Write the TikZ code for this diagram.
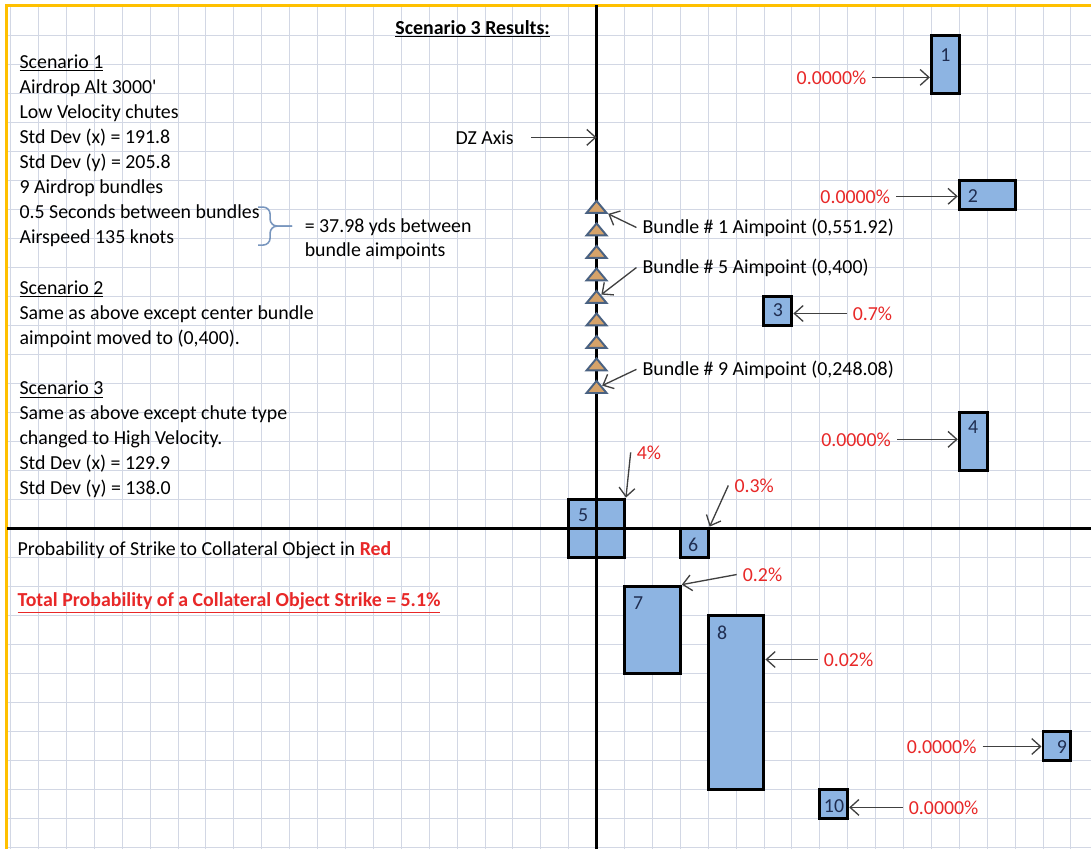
\documentclass[tikz,border=0pt]{standalone}
\usepackage{fontspec}
\setmainfont{Carlito}
\usepackage{tikz}
\usetikzlibrary{arrows.meta,positioning,fit,shapes.geometric}

\definecolor{gridgray}{RGB}{210,215,228}
\definecolor{selorange}{RGB}{255,192,0}
\definecolor{boxblue}{RGB}{141,180,226}
\definecolor{numnavy}{RGB}{31,45,80}
\definecolor{pctred}{RGB}{232,40,40}
\definecolor{arrowgray}{RGB}{64,64,64}
\definecolor{bracecol}{RGB}{120,150,190}
\definecolor{aimfill}{RGB}{214,163,106}
\definecolor{aimedge}{RGB}{74,98,130}

\begin{document}
\begin{tikzpicture}[x=0.558cm, y=0.58cm,
    every node/.append style={font=\fontsize{11.3}{13.6}\selectfont},
    txt/.style={anchor=base west},
    pct/.style={anchor=base, text=pctred},
    boxnum/.style={anchor=base, text=numnavy},
    bundlebox/.style={draw=black, line width=1.7pt, fill=boxblue, inner sep=0pt},
    aimpt/.style={isosceles triangle, isosceles triangle stretches, shape border rotate=90,
        minimum width=0.4cm, minimum height=0.24cm, inner sep=0pt,
        fill=aimfill, draw=aimedge, line width=1.1pt},
    pointer/.style={draw=arrowgray, line width=0.75pt, -{Straight Barb[length=5pt,width=9pt]}},
    gridline/.style={draw=gridgray, line width=0.5pt},
    axisline/.style={draw=black, line width=1.7pt},
    bracket/.style={draw=bracecol, line width=0.9pt, rounded corners=4pt}]

	\useasboundingbox (-21.38,-11.07) rectangle (17.72,18.21);
	\fill[white] (-21.38,-11.07) rectangle (17.72,18.21);

	% sheet grid
	\foreach \k in {-21,...,17} {
		\draw[gridline] (\k,-11.07) -- (\k,18.03);
	}
	\foreach \j in {-11,...,17} {
		\draw[gridline] (-21.13,\j) -- (17.72,\j);
	}
	\draw[selorange, line width=1.7pt] (-21.13,-11.07) -- (-21.13,18.03) -- (17.72,18.03);

	% collateral objects
	\node[bundlebox, fit={(12,15) (13,17)}] (b1) {};
	\node[bundlebox, fit={(13,11) (15,12)}] (b2) {};
	\node[bundlebox, fit={(6,7) (7,8)}] (b3) {};
	\node[bundlebox, fit={(13,2) (14,4)}] (b4) {};
	\node[bundlebox, fit={(-1,-1) (1,1)}] (b5) {};
	\node[bundlebox, fit={(3,-1) (4,0)}] (b6) {};
	\node[bundlebox, fit={(1,-5) (3,-2)}] (b7) {};
	\node[bundlebox, fit={(4,-9) (6,-3)}] (b8) {};
	\node[bundlebox, fit={(16,-8) (17,-7)}] (b9) {};
	\node[bundlebox, fit={(8,-10) (9,-9)}] (b10) {};

	\node[boxnum] (n1) at (12.5,16.1) {1};
	\node[boxnum] (n2) at (13.49,11.24) {2};
	\node[boxnum] (n3) at (6.5,7.28) {3};
	\node[boxnum] (n4) at (13.5,3.28) {4};
	\node[boxnum] (n5) at (-0.48,0.24) {5};
	\node[boxnum] (n6) at (3.46,-0.79) {6};
	\node[boxnum] (n7) at (1.49,-2.79) {7};
	\node[boxnum] (n8) at (4.5,-3.83) {8};
	\node[boxnum] (n9) at (16.68,-7.76) {9};
	\node[boxnum] (n10) at (8.51,-9.79) {10};

	% DZ axes
	\coordinate (axtop) at (0,18.03);
	\draw[axisline] (0,-11.07) -- (axtop);
	\draw[axisline] (-21.13,0) -- (17.72,0);

	% bundle aimpoints
	\foreach \i in {1,...,9} {
		\node[aimpt] (a\i) at (0,{11.03-0.776*(\i-1)}) {};
	}

	\node[anchor=base] (title) at (-4.44,17.03) {\underline{\textbf{Scenario 3 Results:}}};
	\node[anchor=base] (dz) at (-4.01,13.24) {DZ Axis};
	\draw[pointer] (dz.east) ++(0.41,0) -- (dz.east -| axtop);

	% scenario notes
	\node[txt] (s1h) at (-20.9,15.862) {\underline{Scenario 1}};
	\node[txt] (s1a) at (-20.9,14.997) {Airdrop Alt 3000\textquotesingle};
	\node[txt] (s1b) at (-20.9,14.131) {Low Velocity chutes};
	\node[txt] (s1c) at (-20.9,13.266) {Std Dev (x) = 191.8};
	\node[txt] (s1d) at (-20.9,12.400) {Std Dev (y) = 205.8};
	\node[txt] (s1e) at (-20.9,11.534) {9 Airdrop bundles};
	\node[txt] (s1f) at (-20.9,10.669) {0.5 Seconds between bundles};
	\node[txt] (s1g) at (-20.9,9.803) {Airspeed 135 knots};
	\node[txt] (s2h) at (-20.9,8.072) {\underline{Scenario 2}};
	\node[txt] (s2a) at (-20.9,7.207) {Same as above except center bundle};
	\node[txt] (s2b) at (-20.9,6.341) {aimpoint moved to (0,400).};
	\node[txt] (s3h) at (-20.9,4.610) {\underline{Scenario 3}};
	\node[txt] (s3a) at (-20.9,3.745) {Same as above except chute type};
	\node[txt] (s3b) at (-20.9,2.879) {changed to High Velocity.};
	\node[txt] (s3c) at (-20.9,2.014) {Std Dev (x) = 129.9};
	\node[txt] (s3d) at (-20.9,1.148) {Std Dev (y) = 138.0};

	% brace joining the two lines
	\draw[bracket] (-12.13,11.07) -| (-11.70,10.415) -- (-10.91,10.415);
	\draw[bracket] (-12.13,9.76) -| (-11.70,10.415) -- (-10.91,10.415);
	\node[txt] (gap1) at (-10.68,10.207) {= 37.98 yds between};
	\node[txt] (gap2) at (-10.68,9.379) {bundle aimpoints};

	\node[txt] (strike) at (-20.97,-0.93) {Probability of Strike to Collateral Object in \textcolor{pctred}{\textbf{Red}}};
	\node[txt, text=pctred] (total) at (-20.97,-2.69) {\underline{\textbf{Total Probability of a Collateral Object Strike = 5.1\%}}};

	% aimpoint call-outs
	\node[txt] (l1) at (1.43,10.17) {Bundle \# 1 Aimpoint (0,551.92)};
	\node[txt] (l5) at (1.43,8.79) {Bundle \# 5 Aimpoint (0,400)};
	\node[txt] (l9) at (1.43,5.28) {Bundle \# 9 Aimpoint (0,248.08)};
	\draw[pointer] (l1.west) -- (a1);
	\draw[pointer] (l5.west) -- (a5);
	\draw[pointer] (l9.west) -- (a9);

	% strike probabilities
	\node[pct] (p1) at (8.42,15.31) {0.0000\%};
	\node[pct] (p2) at (9.27,11.21) {0.0000\%};
	\node[pct] (p3) at (9.89,7.17) {0.7\%};
	\node[pct] (p4) at (9.30,2.83) {0.0000\%};
	\node[pct] (p5) at (1.88,2.38) {4\%};
	\node[pct] (p6) at (5.65,1.24) {0.3\%};
	\node[pct] (p7) at (5.95,-1.83) {0.2\%};
	\node[pct] (p8) at (9.03,-4.76) {0.02\%};
	\node[pct] (p9) at (12.37,-7.76) {0.0000\%};
	\node[pct] (p10) at (12.44,-9.86) {0.0000\%};

	\draw[pointer] (p1) -- (p1 -| b1.west);
	\draw[pointer] (p2) -- (p2 -| b2.west);
	\draw[pointer] (p3) -- (p3 -| b3.east);
	\draw[pointer] (p4) -- (p4 -| b4.west);
	\draw[pointer] (p5.west) -- (b5.north east);
	\draw[pointer] (p6.west) -- (b6.north east);
	\draw[pointer] (p7.west) -- (b7.north east);
	\draw[pointer] (p8) -- (p8 -| b8.east);
	\draw[pointer] (p9) -- (p9 -| b9.west);
	\draw[pointer] (p10) -- (p10 -| b10.east);
\end{tikzpicture}
\end{document}
